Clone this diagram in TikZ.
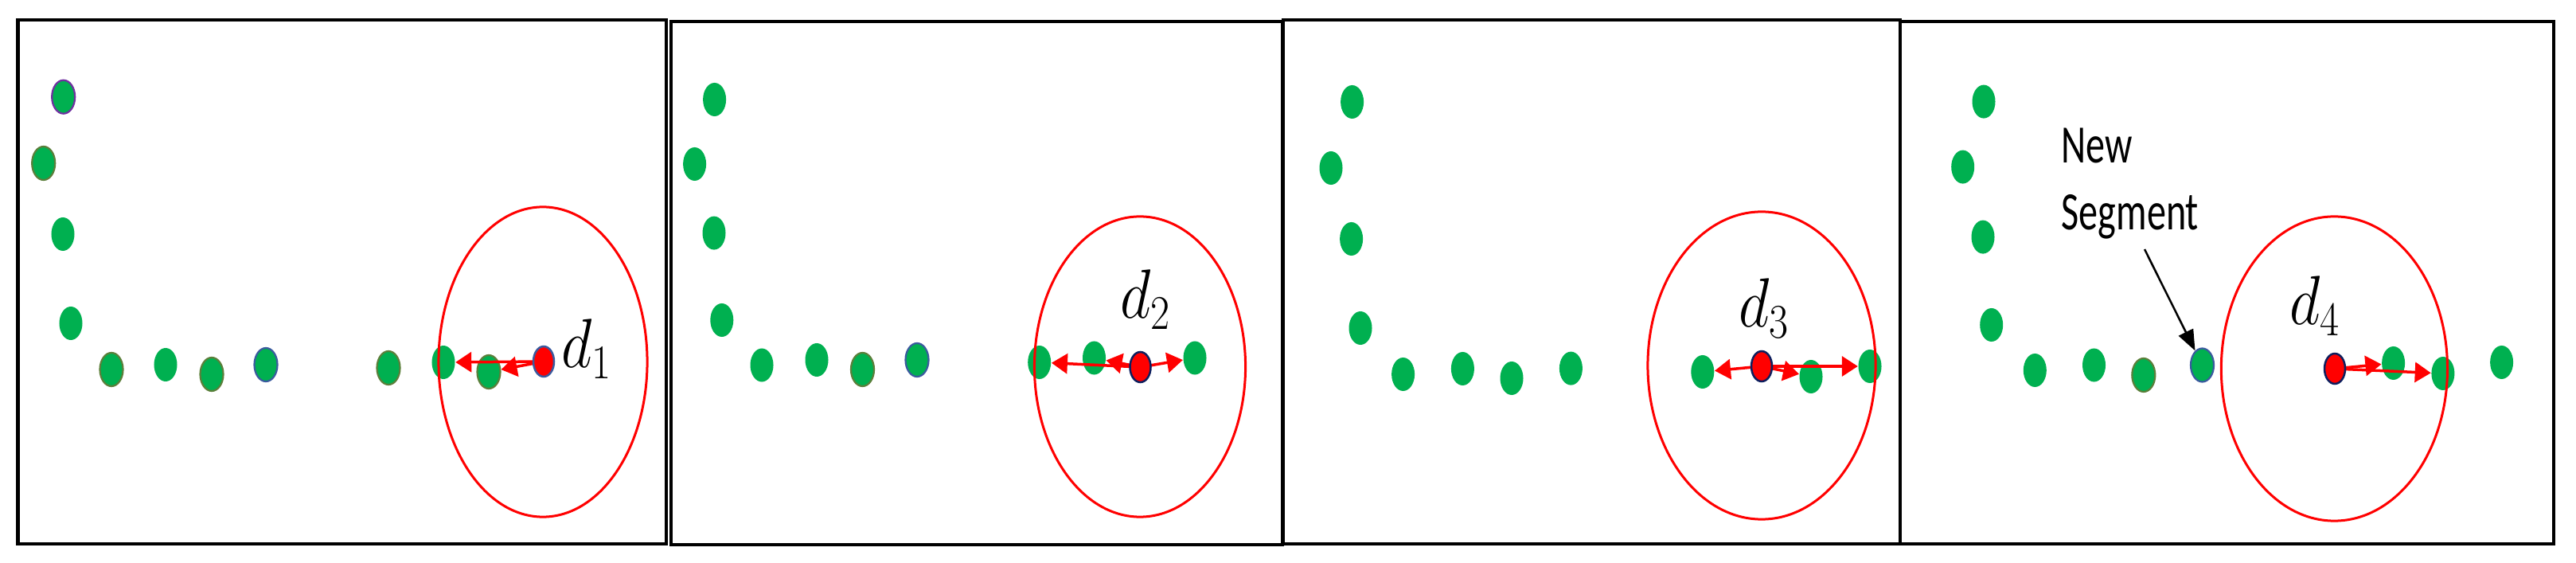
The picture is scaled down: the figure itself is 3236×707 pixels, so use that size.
\documentclass[tikz,border=0pt]{standalone}
\usepackage{fontspec}
\usetikzlibrary{shapes.geometric,arrows.meta}
\newfontfamily\calibri{Carlito}
\definecolor{dgreen}{HTML}{00B050}
\definecolor{olivering}{HTML}{5B7F3A}
\definecolor{bluering}{HTML}{3A5A9E}
\definecolor{purplering}{HTML}{7030A0}
\definecolor{navyring}{HTML}{0E1F5E}
\pgfdeclarelayer{foreground}
\pgfsetlayers{main,foreground}
\tikzset{
  gdot/.style={ellipse, fill=dgreen, inner sep=0pt, minimum width=0.29cm, minimum height=0.42cm},
  odot/.style={gdot, draw=olivering, line width=0.022cm},
  bdot/.style={gdot, draw=bluering, line width=0.022cm},
  pdot/.style={gdot, draw=purplering, line width=0.022cm},
  rdot/.style={ellipse, fill=red, draw=navyring, line width=0.025cm, inner sep=0pt, minimum width=0.26cm, minimum height=0.38cm},
  ring/.style={ellipse, draw=red, line width=0.03cm, inner sep=0pt},
  rarrow/.style={draw=red, line width=0.035cm, -{Triangle[length=0.2cm,width=0.25cm]}},
  panel/.style={draw=black, line width=0.04cm},
  dlabel/.style={anchor=base, inner sep=0pt, font=\fontsize{26}{30}\selectfont},
}
\newcommand{\sq}[1]{\scalebox{0.86}[1]{#1}}
\begin{document}
\begin{tikzpicture}[x=0.01cm, y=-0.01cm]
\useasboundingbox (0,0) rectangle (3236,707);
% panels
\draw[panel] (22.5,25) rectangle (836.8,682.7);
\draw[panel] (843.2,27) rectangle (1611,684);
\draw[panel] (1611.5,25) rectangle (2386.5,683);
\draw[panel] (2386.5,27.3) rectangle (3207.7,683);

% ---------- panel 1 ----------
\node[pdot] (p1d1) at (79.7,121.7) {};
\node[odot] (p1d2) at (54.7,205) {};
\node[gdot] (p1d3) at (79,294) {};
\node[gdot] (p1d4) at (89,406) {};
\node[odot] (p1d5) at (140,464) {};
\node[gdot] (p1d6) at (208,458) {};
\node[odot] (p1d7) at (266,470) {};
\node[bdot] (p1d8) at (334,458) {};
\node[odot] (p1d9) at (488,462) {};
\node[gdot] (p1d10) at (557,455) {};
\node[odot] (p1d11) at (614,467) {};
\node[ring, minimum width=2.62cm, minimum height=3.89cm] (c1) at (682,454.5) {};
\begin{pgfonlayer}{foreground}
\node[rdot, draw=bluering] (p1r) at (683,454) {};
\end{pgfonlayer}
\draw[rarrow] (p1r.center) -- (p1d10);
\draw[rarrow] (p1r.center) -- (p1d11);
\node[dlabel] (lab1) at (737,462) {\sq{$d_1$}};

% ---------- panel 2 ----------
\node[gdot] (p2d1) at (897.6,125) {};
\node[gdot] (p2d2) at (872.6,206) {};
\node[gdot] (p2d3) at (897,292.6) {};
\node[gdot] (p2d4) at (906.8,402) {};
\node[gdot] (p2d5) at (957,458.5) {};
\node[gdot] (p2d6) at (1026,452) {};
\node[odot] (p2d7) at (1083.5,464) {};
\node[bdot] (p2d8) at (1152,452) {};
\node[gdot] (p2d9) at (1305.7,455) {};
\node[gdot] (p2d10) at (1374.5,449.5) {};
\node[gdot] (p2d12) at (1501,449.5) {};
\node[ring, minimum width=2.65cm, minimum height=3.77cm] (c2) at (1432,460.5) {};
\begin{pgfonlayer}{foreground}
\node[rdot] (p2r) at (1432.5,461) {};
\end{pgfonlayer}
\draw[rarrow] (p2r.center) -- (p2d9);
\draw[rarrow] (p2r.center) -- (p2d10);
\draw[rarrow] (p2r.center) -- (p2d12);
\node[dlabel] (lab2) at (1439.5,400) {\sq{$d_2$}};

% ---------- panel 3 ----------
\node[gdot] (p3d1) at (1698.6,128) {};
\node[gdot] (p3d2) at (1672,211) {};
\node[gdot] (p3d3) at (1697.6,300) {};
\node[gdot] (p3d4) at (1709,412) {};
\node[gdot] (p3d5) at (1762.6,470) {};
\node[gdot] (p3d6) at (1837.4,463) {};
\node[gdot] (p3d7) at (1899,475) {};
\node[gdot] (p3d8) at (1973.4,462.6) {};
\node[gdot] (p3d9) at (2138.8,467) {};
\node[gdot] (p3d11) at (2275,473) {};
\node[gdot] (p3d12) at (2349,460) {};
\node[ring, minimum width=2.86cm, minimum height=3.86cm] (c3) at (2213,459) {};
\begin{pgfonlayer}{foreground}
\node[rdot] (p3r) at (2213,460) {};
\end{pgfonlayer}
\draw[rarrow] (p3r.center) -- (p3d9);
\draw[rarrow] (p3r.center) -- (p3d11);
\draw[rarrow] (p3r.center) -- (p3d12);
\node[dlabel] (lab3) at (2216.5,411) {\sq{$d_3$}};

% ---------- panel 4 ----------
\node[gdot] (p4d1) at (2492,127.6) {};
\node[gdot] (p4d2) at (2465.7,209.6) {};
\node[gdot] (p4d3) at (2491,297.6) {};
\node[gdot] (p4d4) at (2501.7,408) {};
\node[gdot] (p4d5) at (2556.3,465) {};
\node[gdot] (p4d6) at (2630.5,458.5) {};
\node[odot] (p4d7) at (2692.8,471) {};
\node[bdot] (p4d8) at (2766.5,458.5) {};
\node[gdot] (p4d10) at (3006.6,456) {};
\node[gdot] (p4d11) at (3068.9,469) {};
\node[gdot] (p4d12) at (3142.6,455) {};
\node[ring, minimum width=2.84cm, minimum height=3.82cm] (c4) at (2932.4,463) {};
\begin{pgfonlayer}{foreground}
\node[rdot] (p4r) at (2933,463) {};
\end{pgfonlayer}
\draw[rarrow] (p4r.center) -- (p4d10);
\draw[rarrow] (p4r.center) -- (p4d11);
\node[dlabel] (lab4) at (2908,408) {\sq{$d_4$}};

\node[anchor=base west, inner sep=0pt] (newseg) at (2589,205)
  {\calibri\fontsize{19.3}{23.7}\selectfont\scalebox{0.71}[1]{\begin{tabular}[t]{@{}l@{}}New\\Segment\end{tabular}}};
\coordinate (nsfrom) at (2694,313);
\draw[line width=0.025cm, -{Triangle[length=0.26cm,width=0.2cm]}] (nsfrom) -- (p4d8);
\end{tikzpicture}
\end{document}
